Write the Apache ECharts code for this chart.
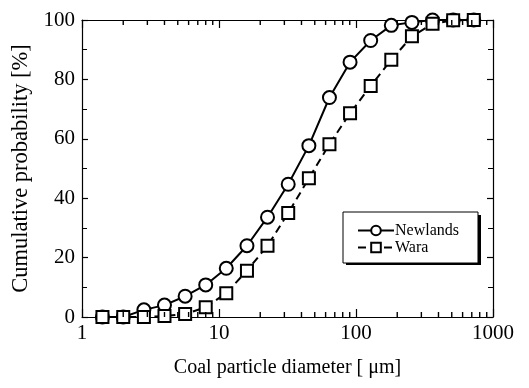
<!DOCTYPE html>
<html>
<head>
<meta charset="utf-8">
<script src="https://cdn.jsdelivr.net/npm/echarts@6/dist/echarts.min.js"></script>
<style>
  html, body { margin: 0; padding: 0; background: #fff; }
  #chart { width: 529px; height: 388px; }
</style>
</head>
<body>
<div id="chart"></div>
<script>
// particle diameter [um] (half-octave steps)
const diameters = [1.41, 2, 2.83, 4, 5.66, 8, 11.3, 16, 22.6, 32, 45.3, 64, 90.5, 128, 181, 256, 362, 512, 724];
const newlands = [0, 0, 2.4, 4, 7, 10.8, 16.4, 24, 33.6, 44.7, 57.7, 73.9, 85.8, 93.1, 98.2, 99.2, 100, 100, 100];
const wara = [0, 0, 0, 0.3, 1, 3.3, 8, 15.6, 24, 35, 46.7, 58.2, 68.6, 77.8, 86.6, 94.5, 98.7, 99.9, 100];
const yTicks = [0, 20, 40, 60, 80, 100];
// minor ticks of the log axis (log axis minorTick does not do 2..9)
const xMinorTicks = [2, 3, 4, 5, 6, 7, 8, 9, 20, 30, 40, 50, 60, 70, 80, 90, 200, 300, 400, 500, 600, 700, 800, 900];

const font = "Liberation Serif";
const chart = echarts.init(document.getElementById("chart"));

function pairs(xs, ys) {
  return xs.map((x, i) => [x, ys[i]]);
}

const axisLine = { show: true, onZero: false, lineStyle: { color: "#000", width: 1.2 } };
const tick = { show: true, inside: true, length: 8, lineStyle: { color: "#000", width: 1.2 } };
const yTick = { show: true, inside: true, length: 6, lineStyle: { color: "#000", width: 1.2 } };
const minor = { show: true, splitNumber: 2, length: 5, lineStyle: { color: "#000", width: 1 } };

// minor tick marks drawn as thin rect symbols sitting on the frame
function minorTickSeries(yVal, offset) {
  return {
    type: "scatter",
    silent: true,
    clip: false,
    symbol: "rect",
    symbolSize: [1.4, 5],
    symbolOffset: [0, offset],
    itemStyle: { color: "#000", opacity: 1 },
    data: xMinorTicks.map((v) => [v, yVal]),
    z: 4
  };
}

const option = {
  animation: false,
  backgroundColor: "#fff",
  grid: { left: 82, right: 36, top: 20, bottom: 71 },
  graphic: [
    // drop shadow behind the legend box
    { type: "rect", left: 346, top: 215, z: 1, shape: { width: 135, height: 50 }, style: { fill: "#000" } }
  ],
  legend: {
    left: 343,
    top: 212,
    z: 5,
    orient: "vertical",
    itemWidth: 36,
    itemHeight: 12,
    itemGap: 0,
    padding: [10, 19, 7, 14],
    backgroundColor: "#fff",
    borderColor: "#000",
    borderWidth: 1,
    textStyle: { fontFamily: font, fontSize: 16, lineHeight: 17, color: "#000", padding: [0, 0, 0, -4] },
    data: ["Newlands", "Wara"]
  },
  xAxis: [
    {
      type: "log",
      logBase: 10,
      min: 1,
      max: 1000,
      position: "bottom",
      axisLine: axisLine,
      axisTick: tick,
      splitLine: { show: false },
      axisLabel: { fontFamily: font, fontSize: 21, color: "#000", margin: 6, formatter: (v) => String(v) },
      name: "Coal particle diameter [ \u03bcm]",
      nameLocation: "middle",
      nameGap: 41,
      nameTextStyle: { fontFamily: font, fontSize: 20, color: "#000" }
    },
    {
      type: "log",
      logBase: 10,
      min: 1,
      max: 1000,
      position: "top",
      axisLine: axisLine,
      axisTick: tick,
      splitLine: { show: false },
      axisLabel: { show: false }
    }
  ],
  yAxis: [
    {
      type: "value",
      min: 0,
      max: 100,
      interval: 20,
      position: "left",
      axisLine: axisLine,
      axisTick: yTick,
      minorTick: minor,
      splitLine: { show: false },
      axisLabel: {
        fontFamily: font, fontSize: 21, color: "#000", margin: 7,
        formatter: (v) => (yTicks.includes(v) ? String(v) : "")
      },
      name: "Cumulative probability [%]",
      nameLocation: "middle",
      nameGap: 46,
      nameTextStyle: { fontFamily: font, fontSize: 22.5, color: "#000" }
    },
    {
      type: "value",
      min: 0,
      max: 100,
      interval: 20,
      position: "right",
      axisLine: axisLine,
      axisTick: yTick,
      minorTick: minor,
      splitLine: { show: false },
      axisLabel: { show: false }
    }
  ],
  series: [
    minorTickSeries(0, -2.5),
    minorTickSeries(100, 2.5),
    {
      name: "Newlands",
      type: "line",
      data: pairs(diameters, newlands),
      symbol: "circle",
      symbolSize: 13,
      color: "#000",
      lineStyle: { color: "#000", width: 2 },
      itemStyle: { color: "#fff", borderColor: "#000", borderWidth: 2 },
      z: 2
    },
    {
      name: "Wara",
      type: "line",
      data: pairs(diameters, wara),
      symbol: "rect",
      symbolSize: 12,
      color: "#000",
      lineStyle: { color: "#000", width: 2, type: [8, 5] },
      itemStyle: { color: "#fff", borderColor: "#000", borderWidth: 2 },
      z: 3
    }
  ]
};

chart.setOption(option);
</script>
</body>
</html>
